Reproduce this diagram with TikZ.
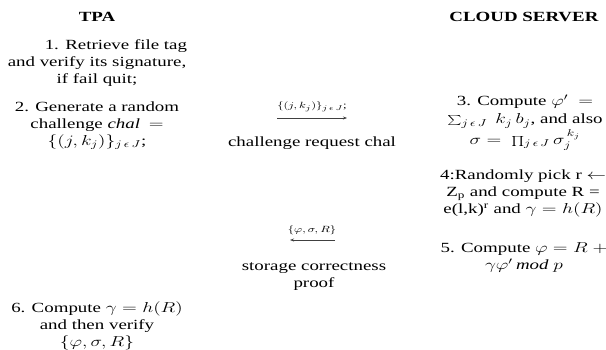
\documentclass[tikz,border=0pt]{standalone}
\usepackage{fontspec}
\setmainfont{Liberation Serif}
\usepackage{graphicx}
\usetikzlibrary{arrows.meta}
\newcommand{\SX}[1]{\scalebox{1.35}[1]{#1}}
\newcommand{\ML}[1]{\begin{tabular}{@{}c@{}}#1\end{tabular}}
\begin{document}
\begin{tikzpicture}[x=1pt,y=-1pt,
  blk/.style={inner sep=0pt, font=\fontsize{14}{17}\selectfont},
  lbl/.style={inner sep=0pt, font=\fontsize{9.5}{10}\selectfont},
  msg/.style={draw=black!75, line width=0.6pt, -{Stealth[length=4pt,width=3pt]}}]
\useasboundingbox (0,0) rectangle (606,349);
% headers
\node[blk] (tpa) at (97,17) {\SX{\textbf{TPA}}};
\node[blk] (cs) at (524,17) {\SX{\textbf{CLOUD SERVER}}};
% TPA side
\node[blk] (b1) at (97,63) {\SX{\ML{\hspace*{2em}1. Retrieve file tag\\and verify its signature,\\if fail quit;}}};
\node[blk] (b2) at (97,125) {\SX{\ML{2. Generate a random\\challenge $\mathit{chal}\,=$\\$\{(j,k_j)\}_{j\,\epsilon\,J}$;}}};
\node[blk] (b6) at (97,326) {\SX{\ML{6. Compute $\gamma = h(R)$\\and then verify\\$\{\varphi,\sigma,R\}$}}};
% server side
\node[blk] (b3) at (525,122) {\SX{\ML{3. Compute $\varphi'\ =$\\[1pt]$\sum_{j\,\epsilon\,J}\ k_j\,b_j$, and also\\[1pt]$\sigma =\ \prod_{j\,\epsilon\,J}\sigma_j^{\,k_j}$}}};
\node[blk] (b4) at (523,193) {\SX{\ML{4:Randomly pick r $\leftarrow$\\Z\textsubscript{p} and compute R =\\e(l,k)\textsuperscript{r} and $\gamma = h(R)$}}};
\node[blk] (b5) at (524,258) {\SX{\ML{5. Compute $\varphi = R\ +$\\$\gamma\varphi'\,\mathit{mod}\ p$}}};
% messages
\node[lbl] (l1) at (312,107) {\SX{$\{(j,k_j)\}_{j\,\epsilon\,J}$;}};
\coordinate (a1s) at (277,118);
\coordinate (a1e) at (347,118);
\draw[msg] (a1s) -- (a1e);
\node[blk] (m1) at (312,143) {\SX{challenge request chal}};
\node[lbl] (l2) at (312,230) {\SX{$\{\varphi,\sigma,R\}$}};
\coordinate (a2s) at (335,240);
\coordinate (a2e) at (290,240);
\draw[msg] (a2s) -- (a2e);
\node[blk] (m2) at (314,276) {\SX{\ML{storage correctness\\proof}}};
\end{tikzpicture}
\end{document}
